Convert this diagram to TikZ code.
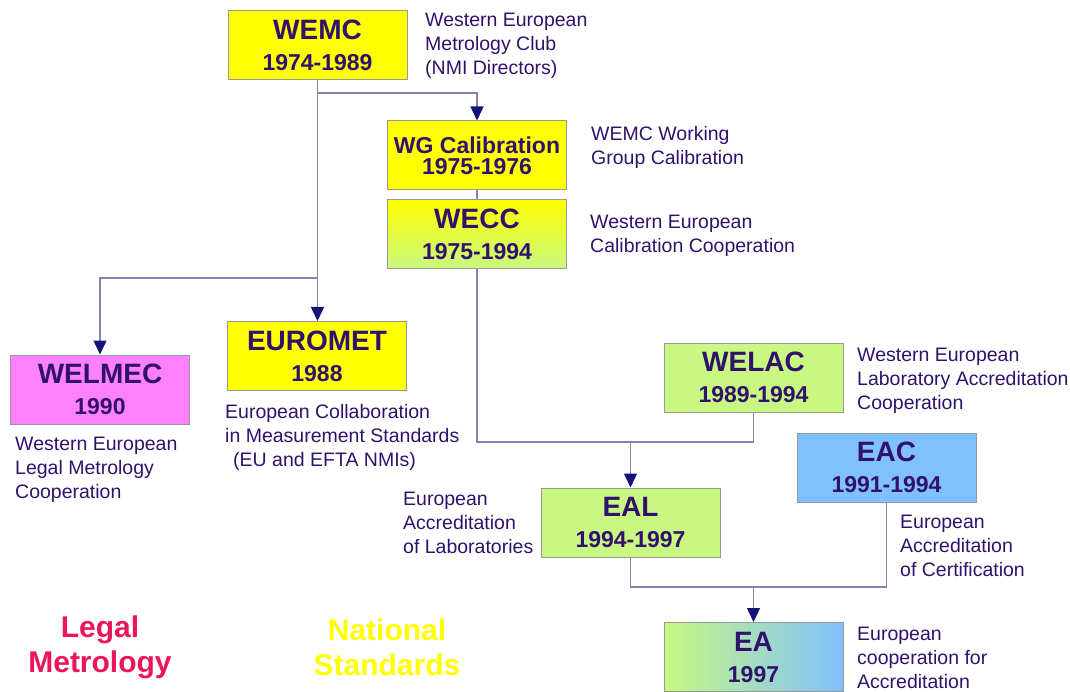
\documentclass[tikz,border=0pt]{standalone}
\usepackage{fontspec}
\setmainfont{Liberation Sans}
\usetikzlibrary{arrows.meta, positioning}

\definecolor{ink}{RGB}{48,18,108}
\definecolor{wiregray}{RGB}{135,130,180}
\definecolor{tipblue}{RGB}{20,20,120}
\definecolor{boxyellow}{RGB}{255,255,0}
\definecolor{boxgreen}{RGB}{200,248,130}
\definecolor{boxpink}{RGB}{255,128,255}
\definecolor{boxblue}{RGB}{128,192,255}
\definecolor{legalred}{RGB}{235,20,95}
\newcommand{\yr}{\fontsize{23}{31}\selectfont}

\begin{document}
\begin{tikzpicture}[
    x=1pt, y=-1pt,
    text=ink,
    org/.style={
      draw=gray!80,
      line width=1pt,
      align=center,
      minimum width=179pt,
      minimum height=69pt,
      inner sep=0pt,
      font=\fontsize{28}{31}\selectfont\bfseries
    },
    note/.style={anchor=north west, align=left, inner sep=0pt, font=\fontsize{19.5}{24}\selectfont},
    field/.style={align=center, inner sep=0pt, font=\fontsize{30}{35}\selectfont\bfseries},
    link/.style={draw=wiregray, line width=1.5pt},
    line/.style={link, -{Triangle[width=13pt,length=14pt,color=tipblue]}}
  ]
  \useasboundingbox (0,0) rectangle (1070,692);

  % ===================== metrology =====================
  \node[org, fill=boxyellow] (wemc) at (317.5,45) {WEMC\\{\yr 1974-1989}};
  \node[org, fill=boxyellow, font=\fontsize{23}{21}\selectfont\bfseries] (wgcal) at (477,155.5) {WG Calibration\\1975-1976};
  \node[org, top color=boxyellow, bottom color=boxgreen, below=9pt of wgcal] (wecc) {WECC\\{\yr 1975-1994}};
  \node[org, fill=boxpink] (welmec) at (100,389.5) {WELMEC\\{\yr 1990}};
  \node[org, fill=boxyellow] (euromet) at (317,356) {EUROMET\\{\yr 1988}};

  % ===================== accreditation =====================
  \node[org, fill=boxgreen] (welac) at (753.5,377.5) {WELAC\\{\yr 1989-1994}};
  \node[org, fill=boxblue] (eac) at (886.5,467.5) {EAC\\{\yr 1991-1994}};
  \node[org, fill=boxgreen] (eal) at (630.5,522.5) {EAL\\{\yr 1994-1997}};
  \node[org, left color=boxgreen, right color=boxblue] (ea) at (753.5,657) {EA\\{\yr 1997}};

  % ===================== notes =====================
  \node[note] (wemcnote) at (425,13) {Western European\\Metrology Club\\(NMI Directors)};
  \node[note] (wgnote) at (591,126) {WEMC Working\\Group Calibration};
  \node[note] (weccnote) at (590,215) {Western European\\Calibration Cooperation};
  \node[note] (welacnote) at (857,348) {Western European\\Laboratory Accreditation\\Cooperation};
  \node[note] (eurometnote) at (225,404) {European Collaboration\\in Measurement Standards\\\hspace*{8pt}(EU and EFTA NMIs)};
  \node[note] (welmecnote) at (15,437) {Western European\\Legal Metrology\\Cooperation};
  \node[note] (ealnote) at (403,492) {European\\Accreditation\\of Laboratories};
  \node[note] (eacnote) at (900,515) {European\\Accreditation\\of Certification};
  \node[note] (eanote) at (857,627) {European\\cooperation for\\Accreditation};

  \node[field, text=legalred] (legal) at (100,647) {Legal\\Metrology};
  \node[field, text=boxyellow] (national) at (387,647) {National\\Standards};

  % ===================== join points =====================
  \coordinate (fork) at (317.5,278);
  \coordinate (labjoin) at (630.5,442);
  \coordinate (accjoin) at (753.5,587);

  % ===================== arrows =====================
  \draw[line] (wemc.south) -- ++(0,13) -| (wgcal.north);
  \draw[line] (wemc.south) -- (wemc.south |- euromet.north);
  \draw[line] (fork) -| (welmec.north);
  \draw[link] (wgcal.south) -- (wecc.north);

  \draw[link] (wecc.south) |- (labjoin) -| (welac.south);
  \draw[line] (labjoin) -- (eal.north);

  \draw[link] (eal.south) |- (accjoin) -| (eac.south);
  \draw[line] (accjoin) -- (ea.north);

\end{tikzpicture}
\end{document}
